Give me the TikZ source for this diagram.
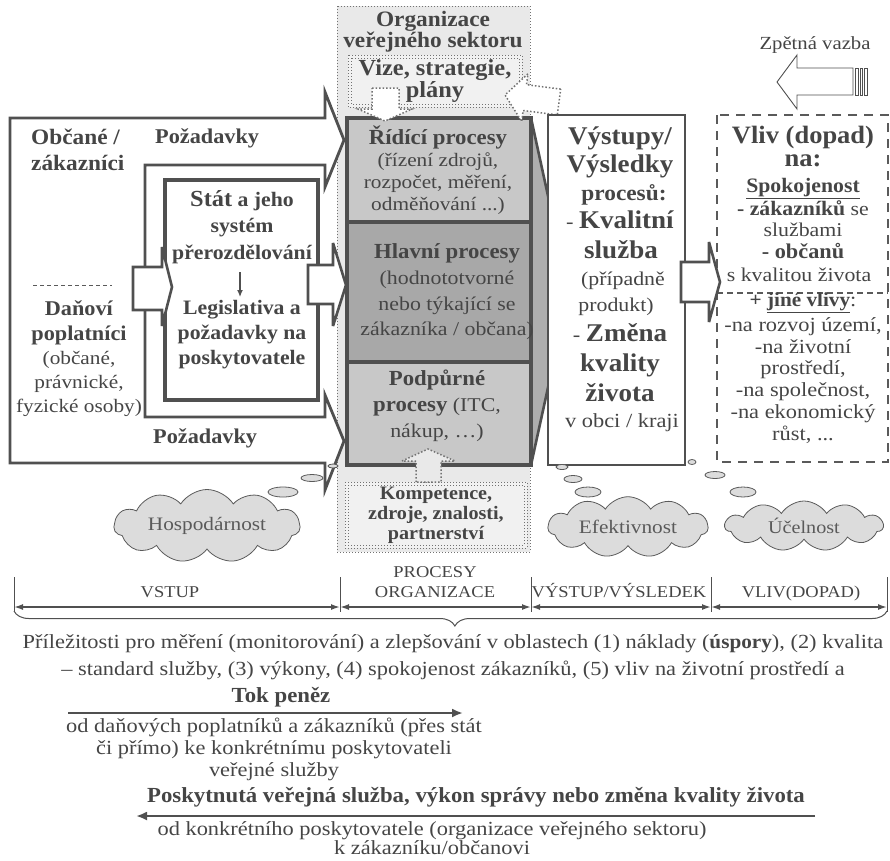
\documentclass[tikz,border=0pt]{standalone}
\usepackage{fontspec}
\setmainfont{Liberation Serif}[FakeStretch=1.12,BoldFeatures={FakeStretch=1.06}]
\usetikzlibrary{arrows.meta,shapes.symbols,decorations.pathreplacing}
\definecolor{lineC}{HTML}{505050}
\definecolor{textC}{HTML}{454545}
\definecolor{softC}{HTML}{5A5A5A}
\definecolor{orgC}{HTML}{E9E9E9}
\definecolor{paleC}{HTML}{F1F1F1}
\definecolor{procL}{HTML}{C8C8C8}
\definecolor{procD}{HTML}{A8A8A8}
\definecolor{chevC}{HTML}{AEAEAE}
\definecolor{cloudC}{HTML}{DCDCDC}
\definecolor{dotC}{HTML}{727272}
\newcommand{\fz}[2]{\fontsize{#1}{#2}\selectfont}
\begin{document}
\begin{tikzpicture}[x=1pt,y=-1pt,
  txt/.style={text=textC,inner sep=0pt,align=center},
  heavy/.style={draw=lineC,line width=3.2pt,line join=miter},
  blockarrow/.style={draw=lineC,line width=2.6pt,fill=white,line join=miter,miter limit=6},
  dotbox/.style={draw=dotC,dotted,line width=1pt},
  dotarrow/.style={draw=dotC,dotted,line width=1.5pt,fill=white},
  bubble/.style={draw=softC,line width=0.8pt,fill=cloudC},
  cloudbox/.style={cloud,cloud puffs=11,cloud puff arc=115,aspect=3.4,draw=softC,line width=0.8pt,fill=cloudC,inner sep=0pt,text=softC},
  tickline/.style={draw=lineC,line width=0.9pt},
  spanarrow/.style={draw=lineC,line width=1.6pt,{Latex[length=9pt,width=6pt]}-{Latex[length=9pt,width=6pt]}},
  flowarrow/.style={draw=lineC,line width=2.4pt,-{Latex[length=11pt,width=9pt]}}
]
\useasboundingbox (0,0) rectangle (890,860);

% public-sector organisation frame
\draw[dotbox,fill=orgC] (337,6) rectangle (530,552);

% citizens / taxpayers: U-shaped requirement arrows
\draw[blockarrow,line width=2.8pt] (10,118) -- (325,118) -- (325,92) -- (344,140) -- (325,187) -- (325,165)
  -- (145,165) -- (145,417) -- (325,417) -- (325,395) -- (344,441) -- (325,490) -- (325,463) -- (10,463) -- cycle;
\draw[softC,line width=1pt,dash pattern=on 4pt off 3pt] (33,285) -- (112,285);

% state box
\draw[heavy,fill=white] (165,180) rectangle (318,400);
\draw[blockarrow] (133,267) -- (162,267) -- (162,247) -- (172,287) -- (162,326) -- (162,310) -- (133,310) -- cycle;
\draw[blockarrow] (308,265) -- (333,265) -- (333,243) -- (346,285) -- (333,326) -- (333,304) -- (308,304) -- cycle;

% process column
\draw[draw=lineC,line width=2.6pt,fill=chevC,line join=miter] (347,118) -- (531,118) -- (569,292) -- (531,465) -- (347,465) -- cycle;
\draw[heavy,fill=procL] (347,118) rectangle (531,222);
\draw[heavy,fill=procD] (347,222) rectangle (531,362);
\draw[heavy,fill=procL] (347,362) rectangle (531,465);

% vision and resources boxes
\draw[dotbox,fill=paleC] (348,55) rectangle (522,107);
\draw[dotbox] (351,58) rectangle (519,104);
\draw[dotbox,fill=paleC] (345,482) rectangle (527,548);
\draw[dotbox] (348,485) rectangle (524,545);
\draw[dotarrow] (372,88) -- (399,88) -- (399,109) -- (412,109) -- (385,121) -- (358,109) -- (372,109) -- cycle;
\draw[dotarrow] (560.7,89.1) -- (526.5,84.7) -- (527.9,73.8) -- (505,95) -- (521.7,121.4) -- (523.1,110.5) -- (557.3,114.9) -- cycle;
\draw[dotarrow,fill=orgC] (416,482) -- (416,461) -- (402,461) -- (428,449) -- (455,461) -- (441,461) -- (441,482) -- cycle;

% outputs and impact
\draw[draw=lineC,line width=2.8pt,fill=white] (548,115) rectangle (685,465);
\draw[draw=softC,line width=2.4pt,dash pattern=on 9pt off 7pt] (717,115) rectangle (888,462);
\draw[draw=softC,line width=1.4pt,dash pattern=on 6pt off 4pt] (717,293) -- (888,293);
\draw[blockarrow] (681,262) -- (709,262) -- (709,242) -- (720,282) -- (709,322) -- (709,302) -- (681,302) -- cycle;

% feedback arrow
\draw[draw=lineC,line width=0.9pt,fill=white,line join=miter] (853,68) -- (797,68) -- (797,55) -- (777,82) -- (797,109) -- (797,95) -- (853,95) -- cycle;
\draw[draw=lineC,line width=0.9pt,fill=white] (855,68) rectangle (858,95);
\draw[draw=lineC,line width=0.9pt,fill=white] (860,68) rectangle (862,95);
\draw[draw=lineC,line width=0.9pt,fill=white] (864,68) rectangle (867,95);
\node[txt,font=\fz{18.5}{20}] (feedback) at (815,45) {Zpětná vazba};

% clouds with thought bubbles
\draw[bubble] (333,466) ellipse [x radius=5,y radius=2];
\draw[bubble] (312,478) ellipse [x radius=11,y radius=3.5];
\draw[bubble] (283,492) ellipse [x radius=15,y radius=5];
\node[cloudbox,minimum width=186,minimum height=56,font=\fz{19}{20}] (hosp) at (207,526) {Hospodárnost};
\draw[bubble] (692,462) ellipse [x radius=4,y radius=2.5];
\draw[bubble] (562,467) ellipse [x radius=6,y radius=2.5];
\draw[bubble] (573,479) ellipse [x radius=9,y radius=3.5];
\draw[bubble] (588,492) ellipse [x radius=13,y radius=5];
\node[cloudbox,minimum width=160,minimum height=52,font=\fz{19}{20}] (efekt) at (628,527) {Efektivnost};
\draw[bubble] (715,475) ellipse [x radius=10,y radius=3.5];
\draw[bubble] (743,492) ellipse [x radius=13,y radius=5];
\node[cloudbox,minimum width=158,minimum height=50,font=\fz{18}{20}] (ucel) at (804,526) {Účelnost};

% texts: left side
\node[txt,anchor=west,align=left,font=\bfseries\fz{22}{26}] (obcane) at (31,150) {Občané /\\zákazníci};
\node[txt,anchor=west,font=\bfseries\fz{21}{22}] (poz1) at (155,138) {Požadavky};
\node[txt,anchor=west,font=\bfseries\fz{21}{22}] (poz2) at (153,438) {Požadavky};
\node[txt,font=\fz{19}{24.3}] (danovi) at (79,359) {\textbf{\fz{21}{24.3}Daňoví}\\\textbf{\fz{21}{24.3}poplatníci}\\(občané,\\právnické,\\fyzické osoby)};
\node[txt,font=\bfseries\fz{20.5}{26.5}] (statup) at (242,227) {{\fz{23}{26.5}Stát} a jeho\\systém\\přerozdělování};
\node[txt,font=\bfseries\fz{20.5}{25}] (legis) at (242,335) {Legislativa a\\požadavky na\\poskytovatele};
\coordinate (dnA) at (240,272);
\coordinate (dnB) at (240,297);
\draw[lineC,line width=1.3pt,-{Latex[length=7pt,width=6pt]}] (dnA) -- (dnB);

% texts: organisation
\node[txt,font=\bfseries\fz{22}{21}] (orgtitle) at (433,32) {Organizace\\veřejného sektoru};
\node[txt,font=\bfseries\fz{23}{22}] (vize) at (435,81) {Vize, strategie,\\plány};
\node[txt,font=\fz{19}{22}] (ridici) at (438,170) {\textbf{\fz{21.5}{22}Řídící procesy}\\(řízení zdrojů,\\rozpočet, měření,\\odměňování ...)};
\node[txt,font=\fz{19.5}{25.7}] (hlavni) at (447,292) {\textbf{\fz{21.5}{25.7}Hlavní procesy}\\(hodnototvorné\\nebo týkající se\\zákazníka / občana)};
\node[txt,font=\fz{19.5}{26}] (podpurne) at (437,406) {\textbf{\fz{21.5}{26}Podpůrné}\\\textbf{\fz{21.5}{26}procesy} (ITC,\\nákup, …)};
\node[txt,font=\bfseries\fz{19}{20}] (kompet) at (436,515) {Kompetence,\\zdroje, znalosti,\\partnerství};

% texts: outputs
\node[txt,anchor=base,font=\bfseries\fz{25.5}{28}] (out1) at (620,144) {Výstupy/};
\node[txt,anchor=base,font=\bfseries\fz{25.5}{28}] (out2) at (620,172) {Výsledky};
\node[txt,anchor=base,font=\bfseries\fz{22}{24}] (out3) at (624,200) {procesů:};
\node[txt,anchor=base,font=\fz{20}{24}] (out4) at (620,228) {- \textbf{\fz{25.5}{28}Kvalitní}};
\node[txt,anchor=base,font=\bfseries\fz{25.5}{28}] (out5) at (621,258) {služba};
\node[txt,anchor=base,font=\fz{19.5}{22}] (out6) at (623,285) {(případně};
\node[txt,anchor=base,font=\fz{19.5}{22}] (out7) at (616,311) {produkt)};
\node[txt,anchor=base,font=\fz{20}{24}] (out8) at (620,341) {- \textbf{\fz{25.5}{28}Změna}};
\node[txt,anchor=base,font=\bfseries\fz{25.5}{28}] (out9) at (620,371) {kvality};
\node[txt,anchor=base,font=\bfseries\fz{25.5}{28}] (out10) at (620,401) {života};
\node[txt,anchor=base,font=\fz{20}{22}] (out11) at (622,427) {v obci / kraji};

% texts: impact
\node[txt,anchor=base,font=\bfseries\fz{25}{26}] (v1) at (803,143) {Vliv (dopad)};
\node[txt,anchor=base,font=\bfseries\fz{25}{26}] (v2) at (803,166) {na:};
\node[txt,anchor=base,font=\bfseries\fz{20.5}{22}] (v3) at (803,192) {\underline{Spokojenost}};
\node[txt,anchor=base,font=\fz{19.5}{22}] (v4) at (803,215) {\textbf{\fz{20.5}{22}- zákazníků} se};
\node[txt,anchor=base,font=\fz{19.5}{22}] (v5) at (803,236) {službami};
\node[txt,anchor=base,font=\bfseries\fz{21}{22}] (v6) at (803,258) {- občanů};
\node[txt,anchor=base,font=\fz{19.5}{22}] (v7) at (799,281) {s kvalitou života};
\node[txt,anchor=base,font=\fz{20}{22}] (v8) at (803,306) {\textbf{+ \underline{jiné vlivy}}:};
\node[txt,anchor=base,font=\fz{20}{22}] (v9) at (803,331) {-na rozvoj území,};
\node[txt,anchor=base,font=\fz{20}{22}] (v10) at (803,353) {-na životní};
\node[txt,anchor=base,font=\fz{20}{22}] (v11) at (803,374) {prostředí,};
\node[txt,anchor=base,font=\fz{20}{22}] (v12) at (803,396) {-na společnost,};
\node[txt,anchor=base,font=\fz{20}{22}] (v13) at (803,418) {-na ekonomický};
\node[txt,anchor=base,font=\fz{20}{22}] (v14) at (803,440) {růst, ...};

% phase scale
\node[txt,anchor=base,font=\fz{16.5}{20}] (phproc) at (435,577) {PROCESY};
\node[txt,anchor=base,font=\fz{16.5}{20}] (phorg) at (435,597) {ORGANIZACE};
\node[txt,anchor=base,font=\fz{16.5}{17}] (phin) at (170,597) {VSTUP};
\node[txt,anchor=base,font=\fz{16.5}{17}] (phout) at (619,597) {VÝSTUP/VÝSLEDEK};
\node[txt,anchor=base,font=\fz{16.5}{17}] (phimp) at (801,597) {VLIV(DOPAD)};
\coordinate (a0) at (14,607);
\coordinate (a1) at (340,607);
\coordinate (a2) at (531,607);
\coordinate (a3) at (711,607);
\coordinate (a4) at (887,607);
\foreach \p in {a0,a1,a2,a3,a4} \draw[tickline] (\p) ++(0,-30) -- ++(0,35);
\draw[spanarrow] (a0) -- (a1);
\draw[spanarrow] (a1) -- (a2);
\draw[spanarrow] (a2) -- (a3);
\draw[spanarrow] (a3) -- (a4);
\coordinate (br0) at (14,611);
\coordinate (br1) at (887,611);
\draw[lineC,line width=1pt,decorate,decoration={brace,amplitude=15pt,mirror,aspect=0.505}] (br0) -- (br1);

% bottom notes and flows
\node[txt,font=\fz{20}{27}] (chance) at (453,657) {Příležitosti pro měření (monitorování) a zlepšování v oblastech (1) náklady (\textbf{úspory}), (2) kvalita\\– standard služby, (3) výkony, (4) spokojenost zákazníků, (5) vliv na životní prostředí a};
\node[txt,font=\bfseries\fz{21.5}{22}] (tok) at (281,697) {Tok peněz};
\coordinate (tokA) at (68,713);
\coordinate (tokB) at (463,713);
\draw[flowarrow] (tokA) -- (tokB);
\node[txt,font=\fz{20}{22}] (tokdesc) at (274,749) {od daňových poplatníků a zákazníků (přes stát\\či přímo) ke konkrétnímu poskytovateli\\veřejné služby};
\node[txt,font=\bfseries\fz{21.5}{22}] (serv) at (476,797) {Poskytnutá veřejná služba, výkon správy nebo změna kvality života};
\coordinate (srvA) at (815,816);
\coordinate (srvB) at (136,816);
\draw[flowarrow] (srvA) -- (srvB);
\node[txt,font=\fz{20}{19.5}] (servdesc) at (432,838) {od konkrétního poskytovatele (organizace veřejného sektoru)\\k zákazníku/občanovi};
\end{tikzpicture}
\end{document}
